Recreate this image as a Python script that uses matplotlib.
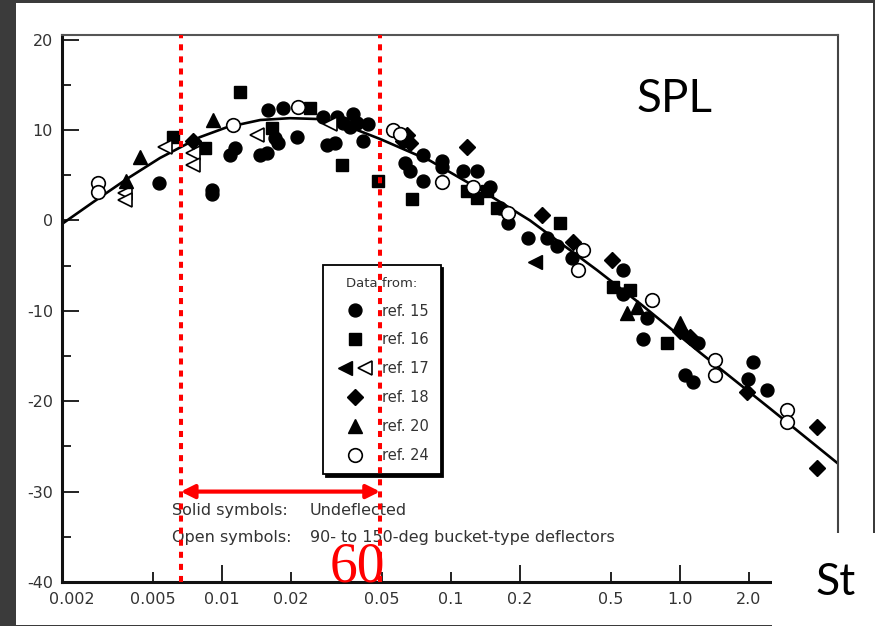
import matplotlib
matplotlib.use("Agg")
import matplotlib.pyplot as plt
from matplotlib.lines import Line2D
from matplotlib.patches import Rectangle
from matplotlib.legend_handler import HandlerTuple
from matplotlib.ticker import MultipleLocator, NullLocator

plt.rcParams['axes.unicode_minus'] = False
plt.rcParams['font.family'] = ['DejaVu Sans']

# Fitted spectrum curve (Strouhal number vs. SPL)
curve_st = [0.002, 0.00273, 0.00385, 0.00536, 0.0080, 0.0105, 0.0147, 0.0198, 0.0268,
            0.0362, 0.049, 0.081, 0.134, 0.221, 0.434, 0.669, 1.22, 2.47, 4.9]
curve_spl = [-0.4, 2.0, 4.6, 6.9, 9.2, 10.3, 11.1, 11.3, 11.2,
             10.3, 9.0, 6.6, 3.4, 0.0, -5.5, -9.2, -14.6, -20.8, -26.9]

# ref. 15 (solid circles)
ref15_st = [0.0053, 0.0090, 0.0090, 0.0108, 0.0114, 0.0147, 0.0157, 0.0159, 0.0185, 0.0170,
            0.0176, 0.0213, 0.0276, 0.0318, 0.0373, 0.0287, 0.0312, 0.0338, 0.0362, 0.0389,
            0.0434, 0.0413, 0.063, 0.066, 0.0755, 0.0755, 0.091, 0.091, 0.113, 0.130,
            0.148, 0.164, 0.177, 0.217, 0.263, 0.290, 0.338, 0.564, 0.564, 0.718,
            0.69, 1.20, 1.05, 1.14, 2.08, 1.98, 2.40]
ref15_spl = [4.1, 3.4, 2.9, 7.2, 8.0, 7.2, 7.5, 12.2, 12.4, 9.1,
             8.5, 9.2, 11.4, 11.4, 11.8, 8.3, 8.6, 10.8, 10.3, 10.8,
             10.7, 8.8, 6.3, 5.5, 7.2, 4.4, 6.6, 5.9, 5.5, 5.5,
             3.7, 1.4, -0.3, -1.9, -2.0, -2.8, -4.2, -5.5, -8.1, -10.8,
             -13.1, -13.6, -17.1, -17.9, -15.7, -17.5, -18.8]

# ref. 16 (solid squares)
ref16_st = [0.0061, 0.0084, 0.0120, 0.0165, 0.0242, 0.0334, 0.048, 0.0676,
            0.1175, 0.130, 0.144, 0.159, 0.299, 0.510, 0.605, 0.877]
ref16_spl = [9.2, 8.0, 14.2, 10.2, 12.4, 6.1, 4.4, 2.4,
             3.3, 2.5, 3.3, 1.4, -0.3, -7.4, -7.7, -13.6]

# ref. 17 (solid and open left triangles)
ref17s_st = [0.233]
ref17s_spl = [-4.6]
ref17o_st = [0.00377, 0.00377, 0.00564, 0.00747, 0.00747, 0.0142, 0.0296]
ref17o_spl = [3.0, 2.2, 8.1, 7.5, 6.1, 9.4, 10.7]

# ref. 18 (solid diamonds)
ref18_st = [0.00747, 0.0617, 0.0643, 0.0662, 0.1175, 0.250, 0.341, 0.505,
            1.0, 1.106, 1.96, 3.97, 3.97]
ref18_spl = [8.8, 8.8, 9.4, 8.6, 8.1, 0.6, -2.4, -4.4,
             -12.2, -12.9, -19.0, -22.9, -27.4]

# ref. 20 (solid triangles)
ref20_st = [0.00439, 0.00381, 0.00914, 0.587, 0.649, 1.0]
ref20_spl = [7.0, 4.3, 11.1, -10.3, -9.6, -11.4]

# ref. 24 (open circles)
ref24_st = [0.00287, 0.00287, 0.0112, 0.0215, 0.0558, 0.0599, 0.0914, 0.125,
            0.177, 0.377, 0.359, 0.755, 1.42, 1.42, 2.93, 2.93]
ref24_spl = [4.1, 3.1, 10.5, 12.5, 10.0, 9.6, 4.2, 3.7,
             0.8, -3.3, -5.5, -8.8, -15.5, -17.1, -21.0, -22.3]

xtick_vals = [0.002, 0.005, 0.01, 0.02, 0.05, 0.1, 0.2, 0.5, 1.0, 2.0]
xtick_labels = ['0.002', '0.005', '0.01', '0.02', '0.05', '0.1', '0.2', '0.5', '1.0', '2.0']
ytick_vals = [-40, -30, -20, -10, 0, 10, 20]

band_st = [0.0066, 0.049]
band_label = '60'
arrow_spl = -30

W, H = 875, 626
fig = plt.figure(figsize=(W / 100, H / 100), dpi=100, facecolor='#3b3b3b')
fig.add_artist(Rectangle((16 / W, 1 / H), (873 - 16) / W, (624 - 2) / H,
                         transform=fig.transFigure, facecolor='white',
                         edgecolor='none', zorder=-1))

ax = fig.add_axes([62 / W, 1 - 582 / H, (838 - 62) / W, (582 - 35) / H])
ax.set_xscale('log')
ax.set_xlim(0.002, 4.9)
ax.set_ylim(-40, 20.5)

ink = '#333333'
ax.set_xticks(xtick_vals)
ax.set_xticklabels([''] + xtick_labels[1:])
ax.xaxis.set_minor_locator(NullLocator())
ax.set_yticks(ytick_vals)
ax.yaxis.set_minor_locator(MultipleLocator(5))
ax.tick_params(axis='x', which='major', direction='in', length=7.5, width=1.4,
               pad=7.2, labelsize=11.5, labelcolor=ink, color='#222')
ax.tick_params(axis='y', which='major', direction='in', length=12, width=1.4,
               pad=6.5, labelsize=11.5, labelcolor=ink, color='#222')
ax.tick_params(axis='y', which='minor', direction='in', length=6.5, width=1.4, color='#222')
for tick, v in zip(ax.xaxis.get_major_ticks(), xtick_vals):
    if v in (0.01, 0.2, 1.0):
        tick.tick1line.set_markersize(12.5)
ax.annotate(xtick_labels[0], xy=(xtick_vals[0], 0), xycoords=ax.get_xaxis_transform(),
            xytext=(7.2, -7.2), textcoords='offset points', ha='center', va='top',
            fontsize=11.5, color=ink)

for side, lw, col in (('left', 2.2, '#111'), ('bottom', 2.2, '#111'),
                      ('top', 1.5, '#555'), ('right', 1.5, '#444')):
    ax.spines[side].set_linewidth(lw)
    ax.spines[side].set_color(col)

# fitted curve
ax.plot(curve_st, curve_spl, color='black', lw=1.9, zorder=2)

ms_o, ms_s, ms_t, ms_d = 9.3, 8.3, 9.8, 8.6
solid = dict(ls='none', mfc='black', mec='black', zorder=3)
hollow = dict(ls='none', mfc='white', mec='black', mew=1.2, zorder=3)
ax.plot(ref15_st, ref15_spl, marker='o', ms=ms_o, **solid)
ax.plot(ref16_st, ref16_spl, marker='s', ms=ms_s, **solid)
ax.plot(ref17s_st, ref17s_spl, marker='<', ms=ms_t, **solid)
ax.plot(ref17o_st, ref17o_spl, marker='<', ms=ms_t, **hollow)
ax.plot(ref18_st, ref18_spl, marker='D', ms=ms_d, **solid)
ax.plot(ref20_st, ref20_spl, marker='^', ms=ms_t, **solid)
ax.plot(ref24_st, ref24_spl, marker='o', ms=ms_o + 0.5, **hollow)

# legend
h15 = Line2D([], [], marker='o', ms=ms_o, ls='none', mfc='k', mec='k')
h16 = Line2D([], [], marker='s', ms=ms_s, ls='none', mfc='k', mec='k')
h17a = Line2D([], [], marker='<', ms=ms_t, ls='none', mfc='k', mec='k')
h17b = Line2D([], [], marker='<', ms=ms_t, ls='none', mfc='white', mec='k', mew=1.2)
h18 = Line2D([], [], marker='D', ms=ms_d, ls='none', mfc='k', mec='k')
h20 = Line2D([], [], marker='^', ms=ms_t, ls='none', mfc='k', mec='k')
h24 = Line2D([], [], marker='o', ms=ms_o + 0.5, ls='none', mfc='white', mec='k', mew=1.2)
leg = ax.legend([h15, h16, (h17a, h17b), h18, h20, h24],
                ['ref. 15', 'ref. 16', 'ref. 17', 'ref. 18', 'ref. 20', 'ref. 24'],
                handler_map={tuple: HandlerTuple(ndivide=None, pad=0.0)},
                title='Data from:', title_fontsize=9.5, fontsize=10.5,
                loc='upper left', bbox_to_anchor=(323 / W, 1 - 265 / H),
                bbox_transform=fig.transFigure, borderaxespad=0,
                frameon=True, fancybox=False, edgecolor='black', framealpha=1,
                shadow={'facecolor': 'black', 'edgecolor': 'black', 'alpha': 1},
                handlelength=2.8, handletextpad=0.45, borderpad=0.8,
                labelspacing=0.95)
leg.get_frame().set_linewidth(1.3)
leg.get_title().set_color(ink)
for t in leg.get_texts():
    t.set_color(ink)

# symbol notes
note_kw = dict(fontsize=11.5, color=ink, va='center', ha='left', zorder=4)
ax.text(0.00605, -32.1, 'Solid symbols:', **note_kw)
ax.text(0.0242, -32.1, 'Undeflected', **note_kw)
ax.text(0.00605, -35.1, 'Open symbols:', **note_kw)
ax.text(0.0242, -35.1, '90- to 150-deg bucket-type deflectors', **note_kw)

# highlighted Strouhal band
for st in band_st:
    ax.axvline(st, color='#ff0000', lw=2.9, ls=(0, (1.5, 1.5)), zorder=7)
ax.annotate('', xy=(band_st[0], arrow_spl), xytext=(band_st[1], arrow_spl),
            arrowprops=dict(arrowstyle='<|-|>', color='#ff0000', lw=3,
                            mutation_scale=20, shrinkA=0, shrinkB=0), zorder=7)
ax.text(0.039, -40, band_label, fontsize=40, color='#ff0000', ha='center',
        va='baseline', family='Liberation Serif', zorder=6)

fig.text(637 / W, 1 - 112 / H, 'SPL', fontsize=33, family='Lato', color='black',
         ha='left', va='baseline')

fig.add_artist(Rectangle((772 / W, 0), (W - 772) / W, (626 - 533) / H,
                         transform=fig.transFigure, facecolor='white',
                         edgecolor='none', zorder=5))
fig.text(815 / W, 1 - 595 / H, 'St', fontsize=32, family='Lato', color='black',
         ha='left', va='baseline', zorder=6)

fig.savefig('out.png', dpi=100, facecolor=fig.get_facecolor())
